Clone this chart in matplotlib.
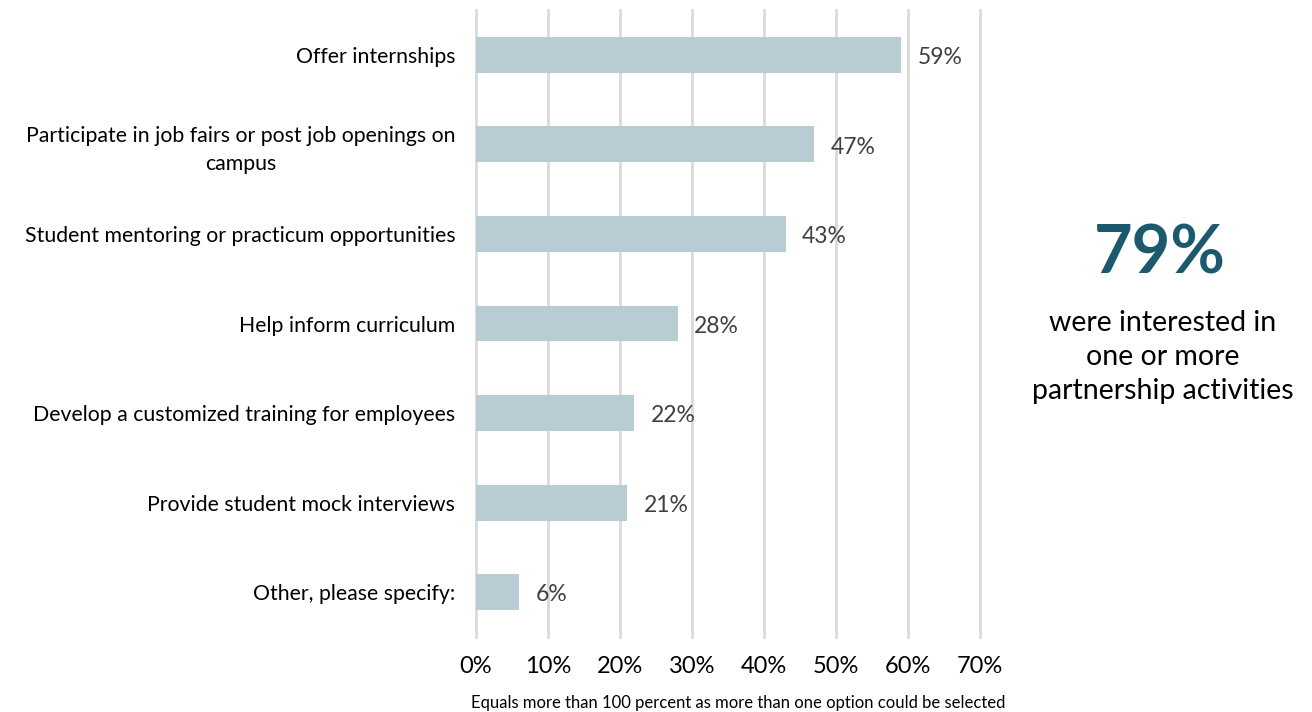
import numpy as np
import matplotlib.pyplot as plt

plt.rcParams['font.family'] = ['Lato', 'DejaVu Sans']

# survey results, % of respondents (multiple answers allowed)
activities = ["Offer internships",
              "Participate in job fairs or post job openings on\ncampus",
              "Student mentoring or practicum opportunities",
              "Help inform curriculum",
              "Develop a customized training for employees",
              "Provide student mock interviews",
              "Other, please specify:"]
shares = [59, 47, 43, 28, 22, 21, 6]
xticks = [0, 10, 20, 30, 40, 50, 60, 70]
headline = "79%"
headline_text = "were interested in\none or more\npartnership activities"
footnote = "Equals more than 100 percent as more than one option could be selected"

bar_col = '#b7cdd3'
grid_col = '#d9d9d9'
text_col = '#404040'

fig = plt.figure(figsize=(13.12, 7.12), dpi=100)
ax = fig.add_axes([0.3628, 0.1053, 0.3841, 0.8806])

y = np.arange(len(activities))
ax.barh(y, shares, height=0.4, color=bar_col, zorder=2)
for yi, v in zip(y, shares):
    ax.text(v + 2.3, yi + 0.03, f"{v}%", va='center', ha='left', fontsize=16.5, color=text_col)

ax.set_ylim(len(activities) - 0.5, -0.5)
ax.set_xlim(0, 70)
ax.set_xticks(xticks)
ax.set_xticklabels([f"{t}%" for t in xticks], fontsize=17, color='black')
ax.set_yticks(y)
ax.set_yticklabels(activities, fontsize=15.3, color='black', linespacing=1.45)
for lab in ax.get_yticklabels():
    lab.set_multialignment('center')
ax.tick_params(axis='y', length=0, pad=15)
ax.tick_params(axis='x', length=0, pad=14)
ax.grid(axis='x', color=grid_col, linewidth=2, zorder=0)
for gl in ax.get_xgridlines():
    gl.set_clip_on(False)
for s in ax.spines.values():
    s.set_visible(False)

fig.text(0.884, 0.643, headline, ha='center', va='center', fontsize=48,
         fontweight='bold', color='#1b5a6e')
fig.text(0.886, 0.499, headline_text, ha='center', va='center', fontsize=20.5,
         color='black', linespacing=1.38)
fig.text(0.5625, 0.013, footnote, ha='center', va='center', fontsize=12, color='black')

fig.savefig('out.png', dpi=100)
